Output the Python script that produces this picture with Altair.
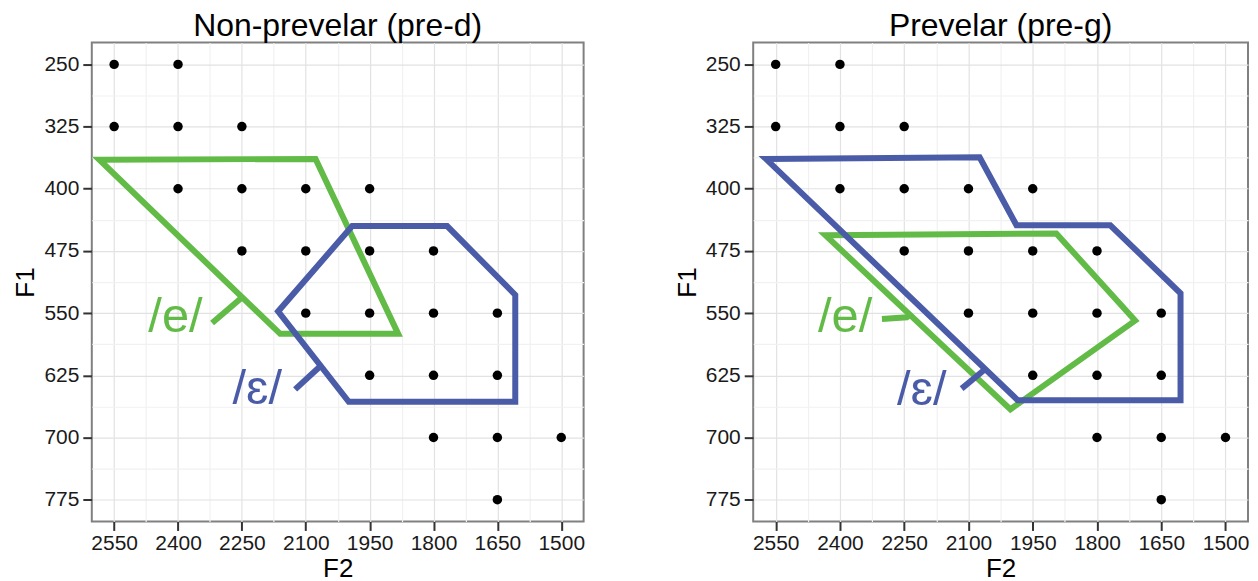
import altair as alt
import pandas as pd

FONT = "Liberation Sans"
GREEN = "#62bb46"
BLUE = "#4a5ba8"

panel_titles = ["Non-prevelar (pre-d)", "Prevelar (pre-g)"]

# grid of stimulus points (same in both panels)
point_f2 = [2550, 2400,
            2550, 2400, 2250,
            2400, 2250, 2100, 1950,
            2250, 2100, 1950, 1800,
            2100, 1950, 1800, 1650,
            1950, 1800, 1650,
            1800, 1650, 1500,
            1650]
point_f1 = [250, 250,
            325, 325, 325,
            400, 400, 400, 400,
            475, 475, 475, 475,
            550, 550, 550, 550,
            625, 625, 625,
            700, 700, 700,
            775]

# tick values
x_ticks = [1500, 1650, 1800, 1950, 2100, 2250, 2400, 2550]
x_grid = [1500, 1575, 1650, 1725, 1800, 1875, 1950, 2025, 2100, 2175, 2250, 2325, 2400, 2475, 2550]
y_ticks = [250, 325, 400, 475, 550, 625, 700, 775]
y_grid = [250, 287.5, 325, 362.5, 400, 437.5, 475, 512.5, 550, 587.5, 625, 662.5, 700, 737.5, 775]

# category polygons (vertices in F2, F1)
pre_d_e_f2 = [2585, 2077, 1883, 2160]
pre_d_e_f1 = [365, 364, 575, 575]
pre_d_eps_f2 = [1991, 1768, 1608, 1608, 1999, 2165]
pre_d_eps_f1 = [445, 445, 528, 657, 657, 548]
pre_g_e_f2 = [2434, 1895, 1711, 2002]
pre_g_e_f1 = [456, 454, 559, 666]
pre_g_eps_f2 = [2573, 2074, 1988, 1769, 1605, 1605, 1985]
pre_g_eps_f1 = [364, 362, 444, 444, 526, 655, 655]

# labels
vowels = ["/e/", "/ɛ/"]
pre_d_label_f2 = [2406, 2214]
pre_d_label_f1 = [555, 642]
pre_g_label_f2 = [2388, 2209]
pre_g_label_f1 = [555, 643]

# leader lines (start, end)
pre_d_e_lead_f2 = [2320, 2252]
pre_d_e_lead_f1 = [562, 532]
pre_d_eps_lead_f2 = [2125, 2066]
pre_d_eps_lead_f1 = [642, 614]
pre_g_e_lead_f2 = [2302, 2244, 2234]
pre_g_e_lead_f1 = [557, 555, 551]
pre_g_eps_lead_f2 = [2116, 2062]
pre_g_eps_lead_f1 = [641, 618]

points_df = pd.DataFrame({"F2": point_f2, "F1": point_f1})


def poly_frame(f2, f1, vowel):
    return pd.DataFrame({"F2": f2, "F1": f1, "vowel": vowel, "i": list(range(len(f2)))})


polys = [
    pd.concat([poly_frame(pre_d_e_f2, pre_d_e_f1, "e"), poly_frame(pre_d_eps_f2, pre_d_eps_f1, "ɛ")]),
    pd.concat([poly_frame(pre_g_e_f2, pre_g_e_f1, "e"), poly_frame(pre_g_eps_f2, pre_g_eps_f1, "ɛ")]),
]
leads = [
    pd.concat([poly_frame(pre_d_e_lead_f2, pre_d_e_lead_f1, "e"), poly_frame(pre_d_eps_lead_f2, pre_d_eps_lead_f1, "ɛ")]),
    pd.concat([poly_frame(pre_g_e_lead_f2, pre_g_e_lead_f1, "e"), poly_frame(pre_g_eps_lead_f2, pre_g_eps_lead_f1, "ɛ")]),
]
labels = [
    pd.DataFrame({"F2": pre_d_label_f2, "F1": pre_d_label_f1, "vowel": ["e", "ɛ"], "text": vowels}),
    pd.DataFrame({"F2": pre_g_label_f2, "F1": pre_g_label_f1, "vowel": ["e", "ɛ"], "text": vowels}),
]

major_x = "datum.value % 150 === 0"
major_y = "(datum.value - 250) % 75 === 0"

x_axis = alt.Axis(
    title="F2", values=x_grid, format="d",
    labelExpr=f"{major_x} ? datum.label : ''",
    tickOpacity={"condition": {"test": major_x, "value": 1}, "value": 0},
    gridColor={"condition": {"test": major_x, "value": "#e2e2e2"}, "value": "#f1f1f1"},
    gridWidth=1.2,
    labelFlush=False, labelOverlap=False, domain=False,
    tickSize=9, tickWidth=2, tickColor="#333333",
    labelFontSize=21, labelColor="#1a1a1a", labelFont=FONT, labelPadding=2,
    titleFontSize=26, titleFont=FONT, titleFontWeight="normal", titleColor="#000000", titlePadding=2,
)
y_axis = alt.Axis(
    title="F1", values=y_grid, format="d",
    labelExpr=f"{major_y} ? datum.label : ''",
    tickOpacity={"condition": {"test": major_y, "value": 1}, "value": 0},
    gridColor={"condition": {"test": major_y, "value": "#e2e2e2"}, "value": "#f1f1f1"},
    gridWidth=1.2,
    labelFlush=False, labelOverlap=False, domain=False,
    tickSize=9, tickWidth=2, tickColor="#333333",
    labelFontSize=21, labelColor="#1a1a1a", labelFont=FONT, labelPadding=4,
    titleFontSize=26, titleFont=FONT, titleFontWeight="normal", titleColor="#000000", titlePadding=5,
)

x_enc = alt.X("F2:Q", axis=x_axis,
              scale=alt.Scale(domain=[1447.5, 2602.5], reverse=True, nice=False, zero=False))
y_enc = alt.Y("F1:Q", axis=y_axis,
              scale=alt.Scale(domain=[223.75, 801.25], reverse=True, nice=False, zero=False))
color_enc = alt.Color("vowel:N", scale=alt.Scale(domain=["e", "ɛ"], range=[GREEN, BLUE]), legend=None)


def panel(k, width):
    pts = alt.Chart(points_df).mark_circle(size=90, color="black", opacity=1).encode(x=x_enc, y=y_enc)
    poly = alt.Chart(polys[k]).mark_line(
        interpolate="linear-closed", strokeWidth=6, strokeJoin="miter", strokeMiterLimit=20
    ).encode(x=x_enc, y=y_enc, color=color_enc, detail="vowel:N", order="i:Q")
    lead = alt.Chart(leads[k]).mark_line(strokeWidth=6, strokeCap="butt").encode(
        x=x_enc, y=y_enc, color=color_enc, detail="vowel:N", order="i:Q")
    txt = alt.Chart(labels[k]).mark_text(
        fontSize=49, font=FONT, align="center", baseline="middle"
    ).encode(x=x_enc, y=y_enc, color=color_enc, text="text:N")
    return alt.layer(pts, poly, lead, txt).properties(
        width=width, height=480,
        title=alt.TitleParams(panel_titles[k], fontSize=32, font=FONT, fontWeight="normal",
                              color="#000000", anchor="middle", offset=0),
    )


chart = alt.hconcat(panel(0, 493), panel(1, 496), spacing=87).properties(
    padding={"left": 3, "top": 0, "right": 0, "bottom": 0}
).configure_view(stroke="#808080", strokeWidth=2)

chart.save("out.html", embed_options={"renderer": "svg", "actions": False})
